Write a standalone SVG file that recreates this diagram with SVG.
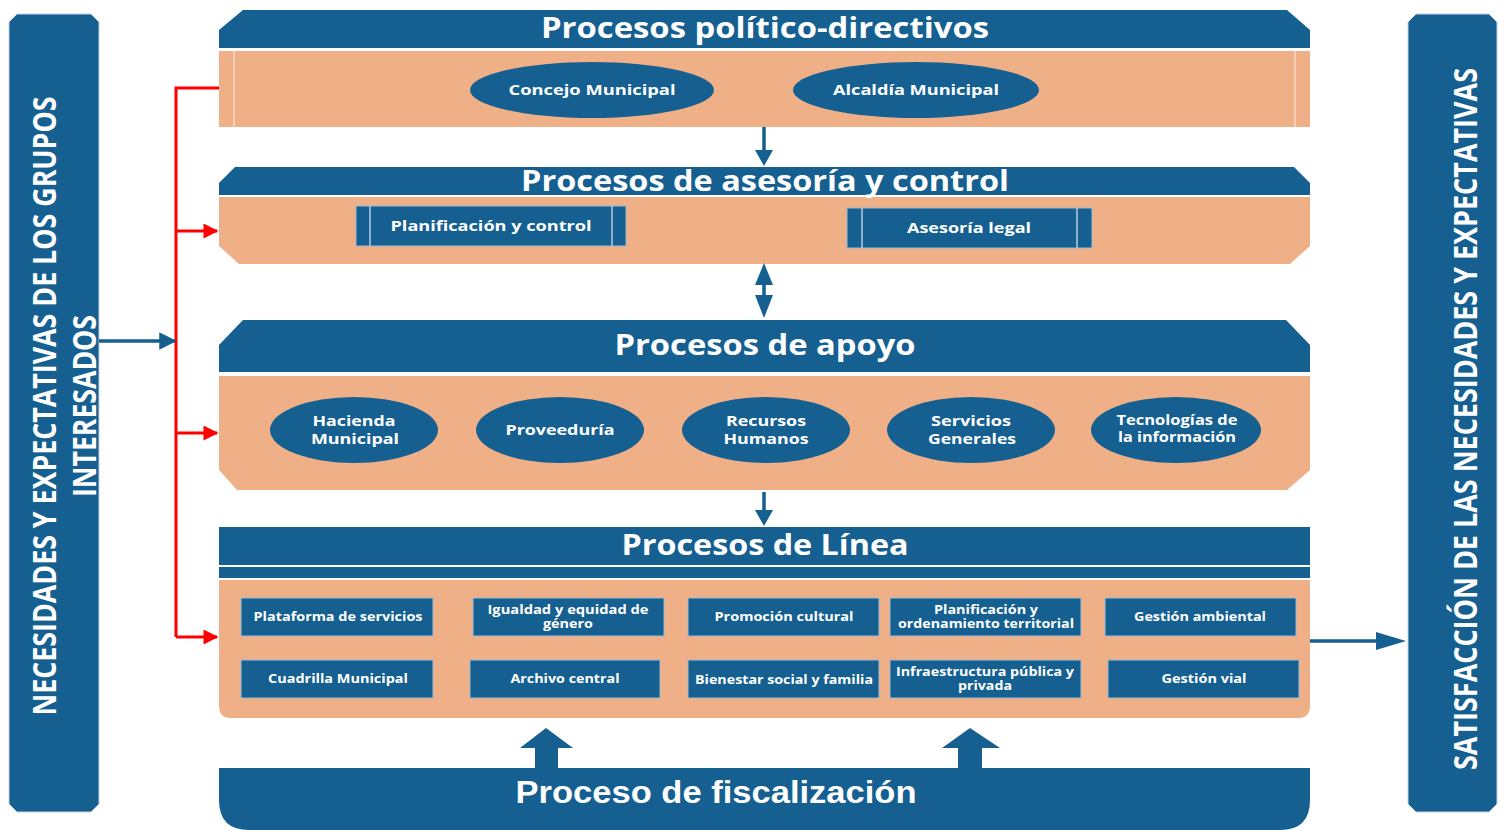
<svg xmlns="http://www.w3.org/2000/svg" width="1504" height="830" viewBox="0 0 1504 830">
<style>
.blue{fill:#155f91}
.peach{fill:#efb088}
.title{font-family:"Open Sans","DejaVu Sans",sans-serif;font-weight:700;font-size:29px;fill:#fff;text-anchor:middle}
.fisc{font-family:"Liberation Sans",Arial,sans-serif;font-weight:700;font-size:31px;fill:#fff;text-anchor:middle}
.el{font-family:"Open Sans","DejaVu Sans",sans-serif;font-weight:700;font-size:15px;fill:#fff;text-anchor:middle}
.bx{font-family:"Open Sans","DejaVu Sans",sans-serif;font-weight:700;font-size:12px;fill:#fff;text-anchor:middle}
.side{font-family:"Open Sans","DejaVu Sans",sans-serif;font-weight:700;font-size:32px;fill:#fff;text-anchor:middle}
.lbox{fill:#155f91;stroke:#9dbbd4;stroke-width:1}
.pbox{fill:#155f91;stroke:#9dbbd4;stroke-width:1}
.pline{stroke:#b6cde0;stroke-width:1.5}
.red{stroke:#ff0000;stroke-width:3;fill:none}
.bl{stroke:#155f91;stroke-width:3.5;fill:none}
</style>
<defs>
<marker id="ar" viewBox="0 0 10 10" refX="9" refY="5" markerWidth="6" markerHeight="5" markerUnits="strokeWidth" orient="auto"><path d="M0,0 L10,5 L0,10 Z" fill="#ff0000"/></marker>
<marker id="ab" viewBox="0 0 10 10" refX="9" refY="5" markerWidth="6" markerHeight="5" markerUnits="strokeWidth" orient="auto"><path d="M0,0 L10,5 L0,10 Z" fill="#155f91"/></marker>
</defs>

<g id="sidebar-left">
<path class="blue" d="M9,22 L17,14 L91,14 L99,22 L99,804 L91,812 L17,812 L9,804 Z" stroke="#c4d4e2" stroke-width="1"/>
<text class="side" transform="translate(56,406) rotate(-90)" textLength="619" lengthAdjust="spacingAndGlyphs">NECESIDADES Y EXPECTATIVAS DE LOS GRUPOS</text>
<text class="side" transform="translate(96,406) rotate(-90)" textLength="182" lengthAdjust="spacingAndGlyphs">INTERESADOS</text>
</g>

<g id="sidebar-right">
<path class="blue" d="M1408,22 L1416,14 L1489,14 L1497,22 L1497,804 L1489,812 L1416,812 L1408,804 Z" stroke="#c4d4e2" stroke-width="1"/>
<text class="side" transform="translate(1477,419) rotate(-90)" textLength="702" lengthAdjust="spacingAndGlyphs">SATISFACCIÓN DE LAS NECESIDADES Y EXPECTATIVAS</text>
</g>

<g id="band-politico">
<path class="blue" d="M219,30 L243,10 L1287,10 L1310,30 L1310,48 L219,48 Z"/>
<rect class="peach" x="219" y="51" width="1091" height="76"/>
<line x1="234" y1="51" x2="234" y2="127" stroke="#f8d8c3" stroke-width="1.5"/>
<line x1="1295" y1="51" x2="1295" y2="127" stroke="#f8d8c3" stroke-width="1.5"/>
<text class="title" x="765" y="38" font-size="28" textLength="448" lengthAdjust="spacingAndGlyphs">Procesos político-directivos</text>
</g>
<g id="concejo">
<ellipse class="blue" cx="592" cy="90" rx="122" ry="28"/>
<text class="el" x="592" y="95" textLength="167" lengthAdjust="spacingAndGlyphs">Concejo Municipal</text>
</g>
<g id="alcaldia">
<ellipse class="blue" cx="916" cy="90" rx="123" ry="28"/>
<text class="el" x="916" y="95" textLength="166" lengthAdjust="spacingAndGlyphs">Alcaldía Municipal</text>
</g>

<g id="band-asesoria">
<path class="blue" d="M219,183 L235,167 L1294,167 L1310,183 L1310,195 L219,195 Z"/>
<path class="peach" d="M219,197 L1310,197 L1310,246 L1290,264 L239,264 L219,246 Z"/>
<text class="title" x="765" y="191" textLength="488" lengthAdjust="spacingAndGlyphs">Procesos de asesoría y control</text>
</g>
<g id="planificacion-control">
<rect class="pbox" x="356" y="206" width="270" height="40"/>
<line class="pline" x1="370" y1="206" x2="370" y2="246"/>
<line class="pline" x1="612" y1="206" x2="612" y2="246"/>
<text class="el" x="491" y="231" textLength="201" lengthAdjust="spacingAndGlyphs">Planificación y control</text>
</g>
<g id="asesoria-legal">
<rect class="pbox" x="847" y="208" width="245" height="40"/>
<line class="pline" x1="862" y1="208" x2="862" y2="248"/>
<line class="pline" x1="1077" y1="208" x2="1077" y2="248"/>
<text class="el" x="969" y="233" textLength="124" lengthAdjust="spacingAndGlyphs">Asesoría legal</text>
</g>

<g id="band-apoyo">
<path class="blue" d="M219,345 L243,320 L1286,320 L1310,345 L1310,372 L219,372 Z"/>
<path class="peach" d="M219,376 L1310,376 L1310,470 L1287,490 L237,490 L219,470 Z"/>
<text class="title" x="765" y="355" textLength="301" lengthAdjust="spacingAndGlyphs">Procesos de apoyo</text>
</g>
<g id="hacienda">
<ellipse class="blue" cx="354" cy="430" rx="84" ry="33"/>
<text class="el" x="354" y="426" font-size="16" textLength="83" lengthAdjust="spacingAndGlyphs">Hacienda</text>
<text class="el" x="355" y="444" font-size="16" textLength="88" lengthAdjust="spacingAndGlyphs">Municipal</text>
</g>
<g id="proveeduria">
<ellipse class="blue" cx="560" cy="430" rx="84" ry="33"/>
<text class="el" x="560" y="435" font-size="16" textLength="109" lengthAdjust="spacingAndGlyphs">Proveeduría</text>
</g>
<g id="recursos">
<ellipse class="blue" cx="766" cy="430" rx="84" ry="33"/>
<text class="el" x="766" y="426" font-size="16" textLength="80" lengthAdjust="spacingAndGlyphs">Recursos</text>
<text class="el" x="766" y="444" font-size="16" textLength="85" lengthAdjust="spacingAndGlyphs">Humanos</text>
</g>
<g id="servicios">
<ellipse class="blue" cx="971" cy="430" rx="84" ry="33"/>
<text class="el" x="971" y="426" font-size="16" textLength="80" lengthAdjust="spacingAndGlyphs">Servicios</text>
<text class="el" x="972" y="444" font-size="16" textLength="88" lengthAdjust="spacingAndGlyphs">Generales</text>
</g>
<g id="tecnologias">
<ellipse class="blue" cx="1176" cy="430" rx="85" ry="33"/>
<text class="el" x="1177" y="425" font-size="14" textLength="121" lengthAdjust="spacingAndGlyphs">Tecnologías de</text>
<text class="el" x="1177" y="442" font-size="14" textLength="118" lengthAdjust="spacingAndGlyphs">la información</text>
</g>

<g id="band-linea">
<rect class="blue" x="219" y="527" width="1091" height="38"/>
<rect class="blue" x="219" y="567" width="1091" height="11"/>
<path class="peach" d="M219,580 H1310 V706 Q1310,718 1298,718 H231 Q219,718 219,706 Z"/>
<text class="title" x="765" y="555" textLength="287" lengthAdjust="spacingAndGlyphs">Procesos de Línea</text>
</g>
<g id="plataforma"><rect class="lbox" x="241" y="598" width="192" height="38"/><text class="bx" x="338" y="621" textLength="169" lengthAdjust="spacingAndGlyphs">Plataforma de servicios</text></g>
<g id="igualdad"><rect class="lbox" x="473" y="598" width="191" height="38"/><text class="bx" x="568" y="614" textLength="161" lengthAdjust="spacingAndGlyphs">Igualdad y equidad de</text><text class="bx" x="568" y="628" textLength="50" lengthAdjust="spacingAndGlyphs">género</text></g>
<g id="promocion"><rect class="lbox" x="688" y="598" width="191" height="38"/><text class="bx" x="784" y="621" textLength="139" lengthAdjust="spacingAndGlyphs">Promoción cultural</text></g>
<g id="planificacion-territorial"><rect class="lbox" x="890" y="598" width="191" height="38"/><text class="bx" x="986" y="614" textLength="104" lengthAdjust="spacingAndGlyphs">Planificación y</text><text class="bx" x="986" y="628" textLength="176" lengthAdjust="spacingAndGlyphs">ordenamiento territorial</text></g>
<g id="ambiental"><rect class="lbox" x="1105" y="598" width="191" height="38"/><text class="bx" x="1200" y="621" textLength="132" lengthAdjust="spacingAndGlyphs">Gestión ambiental</text></g>
<g id="cuadrilla"><rect class="lbox" x="241" y="660" width="192" height="38"/><text class="bx" x="338" y="683" textLength="140" lengthAdjust="spacingAndGlyphs">Cuadrilla Municipal</text></g>
<g id="archivo"><rect class="lbox" x="470" y="660" width="190" height="38"/><text class="bx" x="565" y="683" textLength="109" lengthAdjust="spacingAndGlyphs">Archivo central</text></g>
<g id="bienestar"><rect class="lbox" x="688" y="660" width="191" height="38"/><text class="bx" x="784" y="684" textLength="178" lengthAdjust="spacingAndGlyphs">Bienestar social y familia</text></g>
<g id="infraestructura"><rect class="lbox" x="890" y="660" width="191" height="38"/><text class="bx" x="985" y="676" textLength="178" lengthAdjust="spacingAndGlyphs">Infraestructura pública y</text><text class="bx" x="985" y="690" textLength="54" lengthAdjust="spacingAndGlyphs">privada</text></g>
<g id="vial"><rect class="lbox" x="1108" y="660" width="191" height="38"/><text class="bx" x="1204" y="683" textLength="85" lengthAdjust="spacingAndGlyphs">Gestión vial</text></g>

<g id="band-fiscalizacion">
<path class="blue" d="M219,768 H1310 V800 Q1310,830 1280,830 H249 Q219,830 219,800 Z"/>
<text class="fisc" x="716" y="803" textLength="401" lengthAdjust="spacingAndGlyphs">Proceso de fiscalización</text>
</g>

<g id="connectors">
<path class="red" d="M219,88 H176 V637"/>
<line class="red" x1="176" y1="231" x2="217" y2="231" marker-end="url(#ar)"/>
<line class="red" x1="176" y1="433" x2="217" y2="433" marker-end="url(#ar)"/>
<line class="red" x1="176" y1="637" x2="217" y2="637" marker-end="url(#ar)"/>
<line class="bl" x1="99" y1="341" x2="175" y2="341" marker-end="url(#ab)"/>
<line class="bl" x1="1310" y1="641" x2="1380" y2="641" stroke-width="3"/>
<path d="M1376,632 L1406,641 L1376,650 Z" fill="#155f91"/>
<line class="bl" x1="764" y1="127" x2="764" y2="152"/>
<path d="M755,150 L773,150 L764,166 Z" fill="#155f91"/>
<line class="bl" x1="764" y1="284" x2="764" y2="296"/>
<path d="M755,285 L773,285 L764,263 Z" fill="#155f91"/>
<path d="M755,295 L773,295 L764,318 Z" fill="#155f91"/>
<line class="bl" x1="764" y1="492" x2="764" y2="512"/>
<path d="M755,510 L773,510 L764,526 Z" fill="#155f91"/>
<path d="M535,768 V748 H520 L546,728 L573,748 H558 V768 Z" fill="#155f91"/>
<path d="M958,768 V748 H942 L970,728 L1000,748 H982 V768 Z" fill="#155f91"/>
</g>
</svg>
